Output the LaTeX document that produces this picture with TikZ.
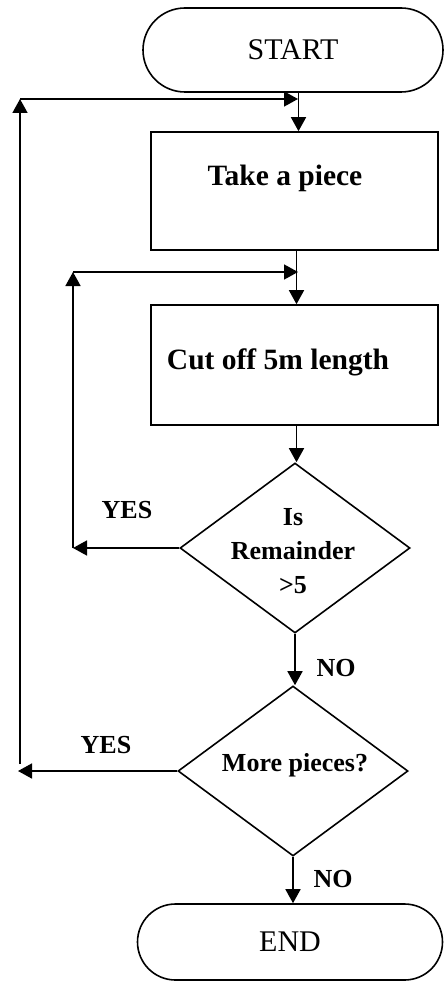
\documentclass[tikz,border=0pt]{standalone}
\usepackage{fontspec}
\setmainfont{Liberation Serif}
\usetikzlibrary{shapes.misc,shapes.geometric,arrows.meta}
\begin{document}
\begin{tikzpicture}[x=1pt,y=1pt,
  line width=1.6pt,
  arr/.style={-{Triangle[length=14pt,width=15pt]}},
  term/.style={draw,rounded rectangle,inner sep=0pt,font=\fontsize{30}{34}\selectfont},
  procbox/.style={draw,rectangle,inner sep=0pt},
  dec/.style={draw,diamond,inner sep=0pt,aspect=1.35},
  btext/.style={inner sep=0pt,font=\bfseries\fontsize{29.5}{34}\selectfont},
  dtext/.style={inner sep=0pt,align=center,font=\bfseries\fontsize{26}{34}\selectfont},
  lab/.style={inner sep=0pt,font=\bfseries\fontsize{26}{30}\selectfont}]
\useasboundingbox (0,0) rectangle (444,-981);
% nodes
\node[term,minimum width=300pt,minimum height=84pt] (start) at (293,-50) {START};
\node[procbox,minimum width=287pt,minimum height=118pt] (tp) at (294.5,-191) {};
\node[btext] (tpt) at (285,-178) {Take a piece};
\node[procbox,minimum width=287pt,minimum height=120pt] (cut) at (294.5,-365) {};
\node[btext] (cutt) at (278,-362) {Cut off 5m length};
\node[dec,minimum width=230pt,minimum height=170pt] (d1) at (295,-548) {};
\node[dtext] (d1t) at (293,-551) {Is\\Remainder\\>5};
\node[dec,minimum width=230pt,minimum height=170pt] (d2) at (293,-771) {};
\node[dtext] (d2t) at (295,-765) {More pieces?};
\node[term,minimum width=305pt,minimum height=76pt] (end) at (290,-942) {END};
% coordinates for loops
\coordinate (l1b) at (20,-771);
\coordinate (l1t) at (20,-99);
\coordinate (l1e) at (298,-99);
\coordinate (l2b) at (73,-548);
\coordinate (l2t) at (73,-272);
\coordinate (l2e) at (298,-272);
% connectors
\draw[arr] ([xshift=4pt]tp.north |- start.south) -- ([xshift=4pt]tp.north);
\draw[arr] ([xshift=2pt]tp.south) -- ([xshift=2pt]tp.south |- cut.north);
\draw[arr] ([xshift=2pt]cut.south) -- ([xshift=2pt]cut.south |- d1.north);
\draw[arr] (d1.south) -- (d1.south |- d2.north);
\draw[arr] (d2.south) -- (d2.south |- end.north);
\draw[arr] (d1.west) -- (l2b);
\draw[arr] (l2b) -- (l2t);
\draw[arr] (l2t) -- (l2e);
\draw[arr] (d2.west) -- ([xshift=-2pt]l1b);
\draw[arr] ([yshift=7pt]l1b) -- (l1t);
\draw[arr] (l1t) -- (l1e);
% labels
\node[lab] (yes1) at (127,-510) {YES};
\node[lab] (yes2) at (106,-745) {YES};
\node[lab] (no1) at (336,-668) {NO};
\node[lab] (no2) at (333,-879) {NO};
\end{tikzpicture}
\end{document}
